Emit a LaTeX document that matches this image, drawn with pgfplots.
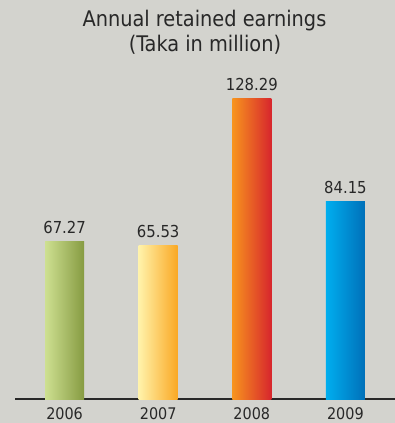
\documentclass[border=0pt]{standalone}
\usepackage{pgfplots}
\pgfplotsset{compat=1.18}
\usepackage{fontspec}
\setmainfont{DejaVu Sans Condensed}
\definecolor{bgc}{RGB}{211,211,206}
\definecolor{txt}{RGB}{40,40,40}
\definecolor{gA}{RGB}{206,224,145}
\definecolor{gB}{RGB}{134,155,66}
\definecolor{yA}{RGB}{255,242,170}
\definecolor{yB}{RGB}{250,168,35}
\definecolor{oA}{RGB}{247,148,30}
\definecolor{oM}{RGB}{236,108,38}
\definecolor{oB}{RGB}{215,38,45}
\definecolor{bA}{RGB}{0,174,239}
\definecolor{bB}{RGB}{0,112,185}
\begin{document}
\begin{tikzpicture}
\useasboundingbox[fill=bgc] (0,0) rectangle (395pt,423pt);
\node[anchor=base, text=txt, font=\fontsize{21.5}{26}\selectfont] at (204.5pt,396pt) {Annual retained earnings};
\node[anchor=base, text=txt, font=\fontsize{21.5}{26}\selectfont] at (205pt,371pt) {(Taka in million)};
\begin{axis}[
  at={(15pt,23.5pt)}, anchor=south west,
  scale only axis, width=380pt, height=352.5pt,
  xmin=-0.53, xmax=3.53, ymin=0, ymax=150,
  axis x line*=bottom, axis y line=none,
  x axis line style={line width=2pt, color=txt},
  xtick={0,1,2,3}, xticklabels={2006,2007,2008,2009},
  major tick length=0pt,
  xticklabel style={anchor=base, yshift=-20pt, text=txt, font=\fontsize{16}{19}\selectfont},
  clip=false,
  /pgf/number format/assume math mode=true,
  ybar, bar width=39pt, bar shift=0pt,
  nodes near coords={\pgfmathprintnumber[fixed, fixed zerofill, precision=2, assume math mode=true]{\pgfplotspointmeta}},
  nodes near coords align={vertical},
  every node near coord/.append style={anchor=base, yshift=8pt, text=txt, font=\fontsize{16.5}{19}\selectfont},
]
\addplot[draw=none, left color=gA, right color=gB] coordinates {(0,67.27)};
\addplot[draw=none, left color=yA, right color=yB] coordinates {(1,65.53)};
\addplot[draw=none, left color=oA, middle color=oM, right color=oB] coordinates {(2,128.29)};
\addplot[draw=none, left color=bA, right color=bB] coordinates {(3,84.15)};
\end{axis}
\end{tikzpicture}
\end{document}
